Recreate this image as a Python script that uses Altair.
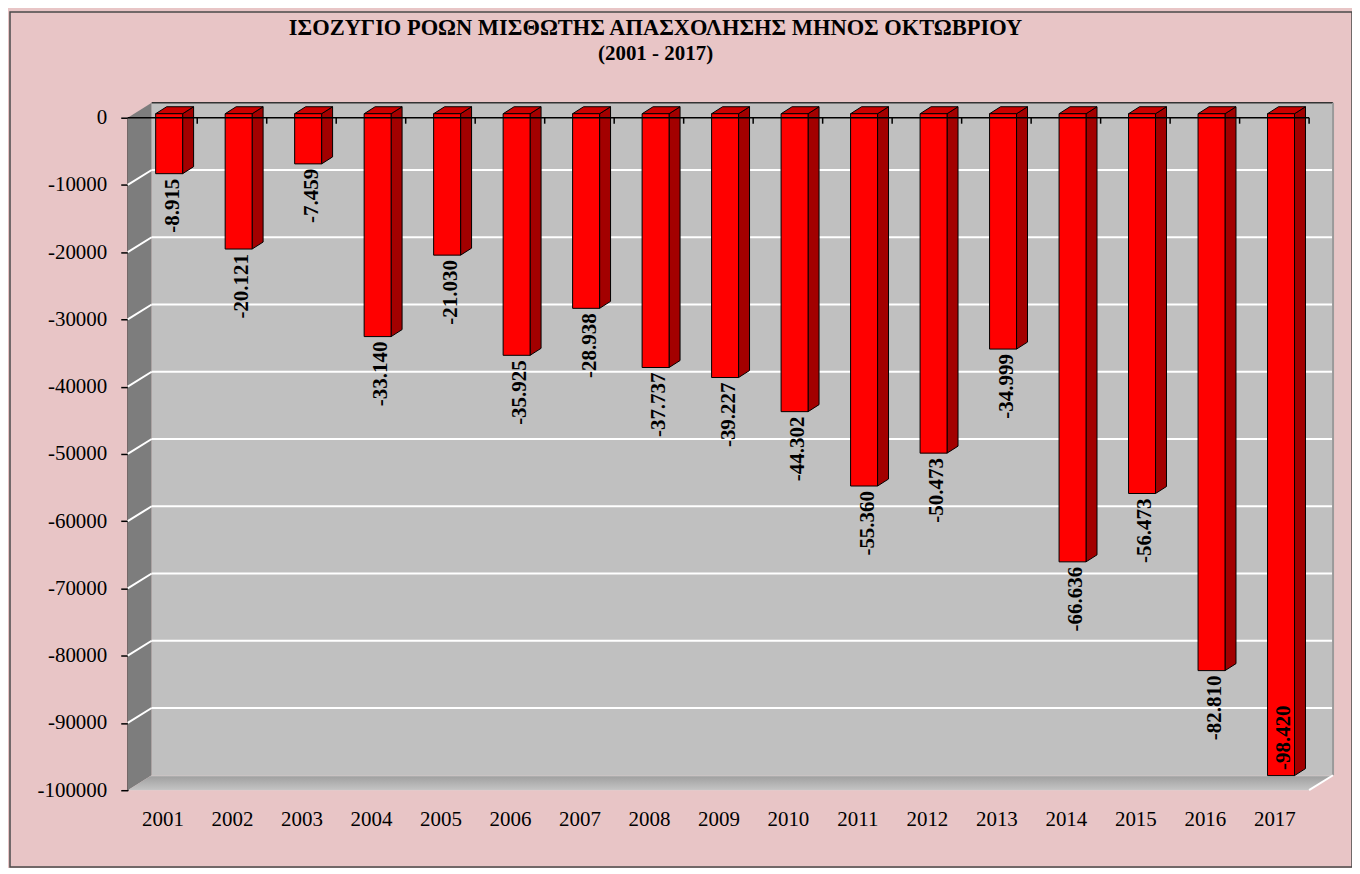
import altair as alt
import pandas as pd

# ---------------- data ----------------
years = ["2001", "2002", "2003", "2004", "2005", "2006", "2007", "2008", "2009",
         "2010", "2011", "2012", "2013", "2014", "2015", "2016", "2017"]
values = [-8915, -20121, -7459, -33140, -21030, -35925, -28938, -37737, -39227,
          -44302, -55360, -50473, -34999, -66636, -56473, -82810, -98420]
y_ticks = [-100000, -90000, -80000, -70000, -60000, -50000, -40000, -30000,
           -20000, -10000, 0]
title_text = "ΙΣΟΖΥΓΙΟ ΡΟΩΝ ΜΙΣΘΩΤΗΣ ΑΠΑΣΧΟΛΗΣΗΣ ΜΗΝΟΣ  ΟΚΤΩΒΡΙΟΥ"
subtitle_text = "(2001 - 2017)"

# ---------------- geometry (in data units) ----------------
W, H = 1184, 674
N = len(years)
YMIN, YMAX = -100000, 0
PX_X = W / N                 # px per x unit
PX_Y = H / (YMAX - YMIN)     # px per y unit
DX = 24 / PX_X               # depth of the 3D box
DY = 15 / PX_Y
BAR_L, BAR_R = 0.402, 0.79   # front face of a bar inside its category
BAR_Z = 4 / PX_Y             # bar front zero sits a little behind front plane
SIDE_X = 11 / PX_X
SIDE_Y = 7 / PX_Y
LAB_GAP = 5 / PX_Y
LAB_MIN = -589 / PX_Y        # keeps the last label inside the box

FONT = "Liberation Serif"

bars = pd.DataFrame({"year": years, "i": range(N), "v": values})
bars["label"] = [f"{v:,}".replace(",", ".") for v in values]
bars["xl"] = bars["i"] + BAR_L
bars["xr"] = bars["i"] + BAR_R
bars["y0"] = BAR_Z
bars["yb"] = bars["v"] + BAR_Z
bars["xc"] = (bars["xl"] + bars["xr"]) / 2 + 0.05
bars["ylab"] = (bars["yb"] - LAB_GAP).clip(lower=LAB_MIN)

side_rows, top_rows = [], []
for _, r in bars.iterrows():
    side_rows.append({"year": r.year, "x": r.xr, "y": r.y0, "y2": r.yb})
    side_rows.append({"year": r.year, "x": r.xr + SIDE_X, "y": r.y0 + SIDE_Y, "y2": r.yb + SIDE_Y})
    top_rows.append({"year": r.year, "y": r.y0, "x": r.xl, "x2": r.xr})
    top_rows.append({"year": r.year, "y": r.y0 + SIDE_Y, "x": r.xl + SIDE_X, "x2": r.xr + SIDE_X})
side = pd.DataFrame(side_rows)
top = pd.DataFrame(top_rows)

xs = alt.Scale(domain=[0, N], nice=False, zero=False)
ys = alt.Scale(domain=[YMIN, YMAX], nice=False, zero=False)

year_expr = "[" + ",".join(f"'{y}'" for y in years) + "][floor(datum.value)]"
AX_X = alt.Axis(values=[i + 0.5 for i in range(N)], labelExpr=year_expr,
                ticks=False, domain=False, grid=False, title=None,
                labelFont=FONT, labelFontSize=21, labelColor="black",
                labelPadding=18, labelFlush=False, labelOverlap=False)
AX_Y = alt.Axis(values=y_ticks, labelExpr="toString(datum.value)",
                grid=False, title=None, domainColor="black", domainWidth=1.5,
                tickColor="black", tickSize=7, tickWidth=1.5,
                labelFont=FONT, labelFontSize=21, labelColor="black",
                labelPadding=14, labelOverlap=False)


def X(f, **kw):
    return alt.X(f, scale=xs, axis=AX_X, **kw)


def Y(f, **kw):
    return alt.Y(f, scale=ys, axis=AX_Y, **kw)


# ---------------- box (walls / floor) ----------------
left_wall = pd.DataFrame({"x": [0, DX], "y": [YMAX, YMAX + DY], "y2": [YMIN, YMIN + DY]})
floor = pd.DataFrame({"y": [YMIN, YMIN + DY], "x": [0, DX], "x2": [N, N + DX]})
back = pd.DataFrame({"x": [DX], "x2": [N + DX], "y": [YMAX + DY], "y2": [YMIN + DY]})
grid = pd.DataFrame({"v": [t for t in y_ticks if YMIN < t < YMAX]})
grid["yb"] = grid["v"] + DY
grid["x0"] = 0.0
grid["xd"] = DX
grid["x1"] = N + DX

c_left = alt.Chart(left_wall).mark_area(orient="vertical", color="#7d7d7d").encode(
    x=X("x:Q"), y=Y("y:Q", stack=None), y2="y2:Q",
)
c_back = alt.Chart(back).mark_rect(color="#c0c0c0").encode(
    x=X("x:Q"), x2="x2:Q", y=Y("y:Q"), y2="y2:Q",
)
c_floor = alt.Chart(floor).mark_area(
    orient="horizontal",
    color=alt.Gradient(gradient="linear", x1=0, y1=0, x2=0, y2=1,
                       stops=[alt.GradientStop(color="#c8c8c8", offset=0),
                              alt.GradientStop(color="#a2a2a2", offset=0.12),
                              alt.GradientStop(color="#c2c2c2", offset=0.95),
                              alt.GradientStop(color="#d6d6d6", offset=1)]),
).encode(
    y=Y("y:Q"), x=X("x:Q", stack=None), x2="x2:Q",
)
c_grid = alt.Chart(grid).mark_rule(color="white", strokeWidth=2).encode(
    x=X("xd:Q"), x2="x1:Q", y=Y("yb:Q"),
)
c_grid_diag = alt.Chart(grid).mark_rule(color="white", strokeWidth=2).encode(
    x=X("x0:Q"), x2="xd:Q", y=Y("v:Q"), y2="yb:Q",
)
top_edge = pd.DataFrame({"x": [DX], "x2": [N + DX], "y": [YMAX + DY]})
c_top_edge = alt.Chart(top_edge).mark_rule(color="#333333", strokeWidth=1.5).encode(
    x=X("x:Q"), x2="x2:Q", y=Y("y:Q"),
)
right_edge = pd.DataFrame({"x": [N + DX], "y": [YMAX + DY], "y2": [YMIN + DY]})
c_right_edge = alt.Chart(right_edge).mark_rule(color="#9a9a9a", strokeWidth=2).encode(
    x=X("x:Q"), y=Y("y:Q"), y2="y2:Q",
)
floor_diag = pd.DataFrame({"x": [N], "x2": [N + DX], "y": [YMIN], "y2": [YMIN + DY]})
c_floor_diag = alt.Chart(floor_diag).mark_rule(color="white", strokeWidth=2).encode(
    x=X("x:Q"), x2="x2:Q", y=Y("y:Q"), y2="y2:Q",
)

# ---------------- bars ----------------
c_side = alt.Chart(side).mark_area(orient="vertical", color="#a30000",
                                   stroke="black", strokeWidth=1).encode(
    x=X("x:Q"), y=Y("y:Q", stack=None), y2="y2:Q", detail="year:N",
)
c_top = alt.Chart(top).mark_area(orient="horizontal", color="#cc0000",
                                 stroke="black", strokeWidth=1).encode(
    y=Y("y:Q"), x=X("x:Q", stack=None), x2="x2:Q", detail="year:N",
)
c_front = alt.Chart(bars).mark_rect(color="#ff0000", stroke="black", strokeWidth=1).encode(
    x=X("xl:Q"), x2="xr:Q", y=Y("y0:Q"), y2="yb:Q",
)

# ---------------- zero line + category ticks ----------------
zero = pd.DataFrame({"x": [0], "x2": [N], "y": [0]})
c_zero = alt.Chart(zero).mark_rule(color="black", strokeWidth=1.5).encode(
    x=X("x:Q"), x2="x2:Q", y=Y("y:Q"),
)
cat_ticks = pd.DataFrame({"x": list(range(1, N + 1))})
cat_ticks["y"] = 0
cat_ticks["y2"] = -6 / PX_Y
c_ticks = alt.Chart(cat_ticks).mark_rule(color="black", strokeWidth=1.5).encode(
    x=X("x:Q"), y=Y("y:Q"), y2="y2:Q",
)

# ---------------- labels ----------------
c_lab = alt.Chart(bars).mark_text(angle=270, align="right", baseline="middle",
                                  font=FONT, fontSize=21, fontWeight="bold",
                                  color="black").encode(
    x=X("xc:Q"), y=Y("ylab:Q"), text="label:N",
)

# ---------------- frame ----------------
frame = alt.Chart(pd.DataFrame({"a": [0]})).mark_rect(
    fill=None, stroke="#4a4a4a", strokeWidth=1.5).encode(
    x=alt.value(-118), x2=alt.value(1227), y=alt.value(-106), y2=alt.value(751),
)

chart = alt.layer(
    c_left, c_back, c_floor, c_grid, c_grid_diag, c_top_edge, c_right_edge,
    c_floor_diag, c_side, c_top, c_front, c_zero, c_ticks, c_lab, frame,
).properties(
    width=W, height=H,
    title=alt.Title(title_text, subtitle=subtitle_text, anchor="middle", dx=-63,
                    font=FONT, fontSize=22.5, fontWeight="bold", color="black",
                    subtitleFont=FONT, subtitleFontSize=21, subtitleFontWeight="bold",
                    subtitleColor="black", subtitlePadding=4, offset=-53),
    autosize=alt.AutoSizeParams(type="none"),
    padding={"left": 120, "top": 109, "right": 43, "bottom": 77},
    background="#e8c5c6",
).configure_view(stroke=None)

chart.save("out.html", embed_options={"renderer": "svg", "actions": False})
